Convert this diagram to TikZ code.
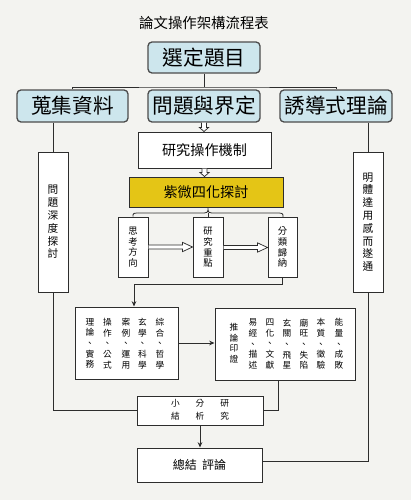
\documentclass[tikz,border=0pt]{standalone}
\usepackage{fontspec}
\setmainfont{Noto Sans CJK TC}
\usetikzlibrary{arrows.meta,calc}
\definecolor{bg}{RGB}{243,243,240}
\definecolor{bluef}{RGB}{205,230,237}
\definecolor{yelf}{RGB}{228,197,22}
\definecolor{ln}{RGB}{45,45,45}
% hollow horizontal arrow from #1 to #2
\newcommand\hollowH[2]{%
  \draw[holl] let \p1=(#1), \p2=(#2) in
   (\x1,\y1+1.5pt) -- (\x2-7.5pt,\y1+1.5pt) -- (\x2-7.5pt,\y1+3.5pt) -- (\x2,\y1)
   -- (\x2-7.5pt,\y1-3.5pt) -- (\x2-7.5pt,\y1-1.5pt) -- (\x1,\y1-1.5pt);}
% hollow vertical (downward) arrow from #1 to #2
\newcommand\hollowV[2]{%
  \draw[holl] let \p1=(#1), \p2=(#2) in
   (\x1-1.9pt,\y1) -- (\x1-1.9pt,\y2+3pt) -- (\x1-3.4pt,\y2+3pt) -- (\x1,\y2)
   -- (\x1+3.4pt,\y2+3pt) -- (\x1+1.9pt,\y2+3pt) -- (\x1+1.9pt,\y1);}
\begin{document}
\begin{tikzpicture}[x=0.75pt,y=-0.75pt,
  sz/.style 2 args={minimum width=#1*0.75pt, minimum height=#2*0.75pt},
  box/.style={draw=ln, line width=0.75pt, fill=white, inner sep=0pt, align=center},
  bbox/.style={box, fill=bluef, rounded corners=3pt, draw=ln!85, line width=1pt, font=\fontsize{15.5}{16}\selectfont},
  midtxt/.style={font=\fontsize{10.6}{12}\selectfont},
  smalltxt/.style={font=\fontsize{7}{8}\selectfont},
  sidetxt/.style={font=\fontsize{8}{9.6}\selectfont},
  col/.style={align=center, inner sep=0pt, font=\fontsize{6.5}{8}\selectfont},
  wire/.style={draw=ln, line width=0.7pt},
  holl/.style={draw=ln, line width=0.55pt, fill=white, line join=miter},
  arr/.style={wire, -{Stealth[length=4pt,width=3.5pt]}}
]
\fill[bg] (0,0) rectangle (411,500);
\useasboundingbox (0,0) rectangle (411,500);

\node[font=\fontsize{10.8}{12}\selectfont] (title) at (204,23) {論文操作架構流程表};
\node[bbox, sz={112}{31}] (top) at (204,57.5) {選定題目};
\node[bbox, sz={111}{32}] (b1) at (72.5,106) {蒐集資料};
\node[bbox, sz={112}{32}] (b2) at (204,106) {問題與界定};
\node[bbox, sz={112}{32}] (b3) at (336,106) {誘導式理論};

\coordinate (j) at (204,87);
\draw[wire] (top.south) -- (j);
\draw[wire] (b1.north) |- (j) -| (b3.north);

\node[box, sz={133}{36}, midtxt] (r1) at (204.5,150) {研究操作機制};
\node[box, fill=yelf, sz={154}{30}, midtxt] (yel) at (206,192) {紫微四化探討};
\hollowV{b2.south}{b2.south |- r1.north}
\hollowV{r1.south}{r1.south |- yel.north}

\node[box, sz={30}{60}, smalltxt] (s1) at (133,247) {思\\考\\方\\向};
\node[box, sz={30}{60}, smalltxt] (s2) at (208,247.5) {研\\究\\重\\點};
\node[box, sz={29}{60}, smalltxt] (s3) at (282.5,247.5) {分\\類\\歸\\納};
\hollowH{s1.east}{s1.east -| s2.west}
\hollowH{s2.east}{s2.east -| s3.west}

% brace
\coordinate (br1) at (133,213);
\coordinate (brm) at (208,213);
\coordinate (br3) at (283,213);
\draw[wire, line width=0.6pt] (s1.north) .. controls (133,213) .. (141,213) -- (200,213)
   .. controls (208,213) .. (yel.south -| brm)
   .. controls (208,213) .. (216,213) -- (275,213) .. controls (283,213) .. (s3.north -| br3);
\draw[wire, line width=0.6pt] (brm) -- (s2.north);

\node[box, sz={30}{140}, sidetxt] (L) at (53,222) {問\\題\\深\\度\\探\\討};
\node[box, sz={30}{140}, sidetxt] (R) at (368,222) {明\\體\\達\\用\\感\\而\\遂\\通};
\draw[wire] (b1.south -| L.north) -- (L.north);
\draw[wire] (b3.south -| R.north) -- (R.north);

\node[box, sz={103}{72}] (A) at (126.5,343) {};
\node[col] (a1) at (160,343.5) {綜\\合\\、\\哲\\學};
\node[col] (a2) at (142.5,343.5) {玄\\學\\、\\科\\學};
\node[col] (a3) at (126,343.5) {案\\例\\、\\運\\用};
\node[col] (a4) at (107.5,343.5) {操\\作\\、\\公\\式};
\node[col] (a5) at (90,343.5) {理\\論\\、\\實\\務};

\node[box, sz={140}{72}] (B) at (285,344) {};
\node[col] (c1) at (339,344) {能\\量\\、\\成\\敗};
\node[col] (c2) at (321,344) {本\\質\\、\\徵\\驗};
\node[col] (c3) at (304,344) {廟\\旺\\、\\失\\陷};
\node[col] (c4) at (287,344) {玄\\關\\、\\飛\\星};
\node[col] (c5) at (270,344) {四\\化\\、\\文\\獻};
\node[col] (c6) at (253,344) {易\\經\\、\\描\\述};
\node[col] (c7) at (234,343) {推\\論\\印\\證};

\coordinate (k) at (134,284);
\draw[arr] (s3.south) |- (k) -- (k |- A.north);
\draw[arr] (A.east) -- (A.east -| B.west);

\node[box, sz={126}{29}, font=\fontsize{6.5}{9.75}\selectfont] (sm) at (200,410.5)
  {\setlength\tabcolsep{6pt}\begin{tabular}{ccc}小&分&研\\結&析&究\end{tabular}};
\draw[wire] (L.south) |- (sm.west);
\draw[wire] ([xshift=-5.25pt]B.south) |- (sm.east);

\node[box, sz={125}{34}, font=\fontsize{9}{10}\selectfont] (fin) at (199.5,465) {總結\hspace{4pt}評論};
\draw[arr] (sm.south) -- (sm.south |- fin.north);
\draw[wire] (R.south) |- ([yshift=3pt]fin.east);
\end{tikzpicture}
\end{document}
